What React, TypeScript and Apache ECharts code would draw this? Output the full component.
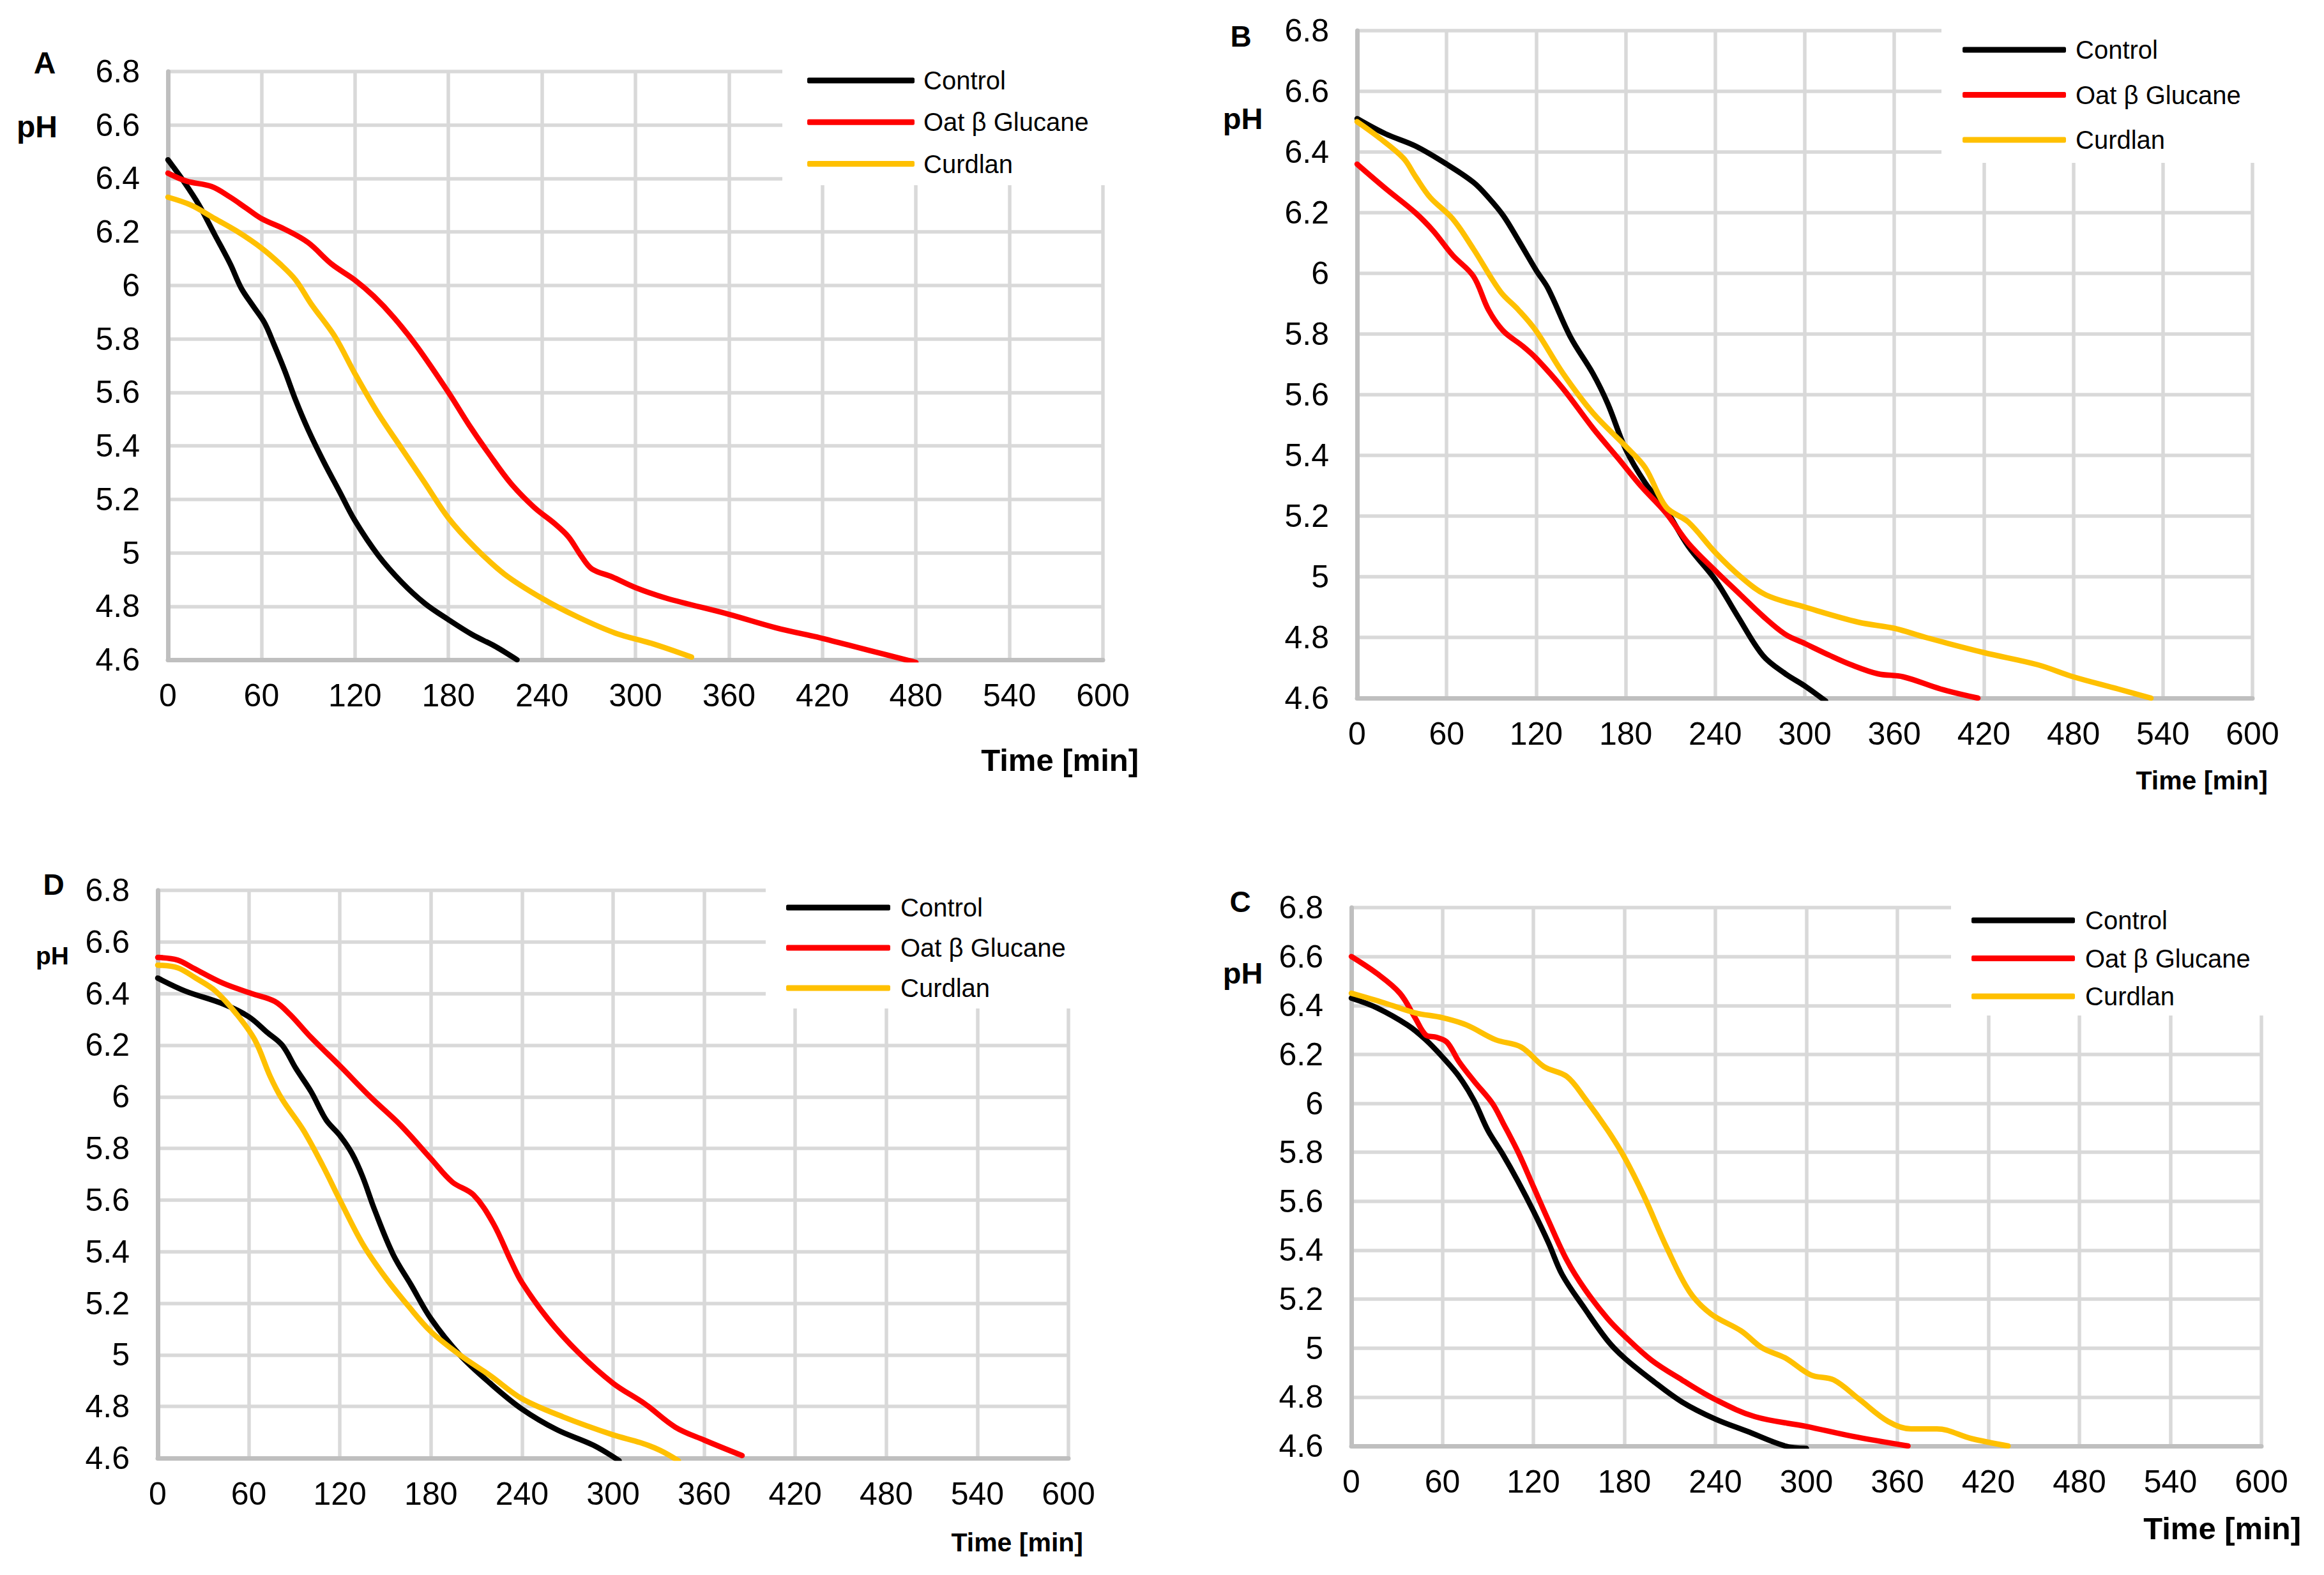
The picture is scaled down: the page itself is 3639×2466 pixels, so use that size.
import React, { useEffect, useRef } from "react";
import * as echarts from "echarts";

// ---------- DATA (time [min], pH) ----------
const SERIES_NAMES = ["Control", "Oat β Glucane", "Curdlan"];
const SERIES_COLORS = ["#000000", "#FF0000", "#FFC000"];
const X_TICKS = { min: 0, max: 600, interval: 60 };
const Y_TICKS = { min: 4.6, max: 6.8, interval: 0.2 };

const A_CONTROL: number[][] = [[0,6.47],[10,6.39],[20,6.30],[30,6.19],[40,6.08],[47,5.99],[55,5.92],[62,5.86],[68,5.78],[75,5.68],[82,5.57],[90,5.46],[100,5.34],[110,5.23],[120,5.12],[135,4.99],[150,4.89],[165,4.81],[180,4.75],[195,4.695],[210,4.65],[224,4.60]];
const A_OAT: number[][] = [[0,6.42],[12,6.39],[28,6.37],[40,6.33],[50,6.29],[60,6.25],[75,6.21],[90,6.16],[105,6.08],[120,6.02],[132,5.96],[145,5.88],[160,5.77],[180,5.60],[193,5.48],[206,5.37],[220,5.26],[235,5.17],[248,5.11],[257,5.06],[265,4.99],[272,4.94],[285,4.91],[300,4.87],[320,4.83],[360,4.77],[390,4.72],[420,4.68],[450,4.635],[480,4.59]];
const A_CURDLAN: number[][] = [[0,6.33],[15,6.30],[30,6.25],[45,6.20],[60,6.14],[72,6.08],[82,6.02],[92,5.93],[107,5.81],[120,5.67],[135,5.52],[150,5.39],[165,5.26],[180,5.13],[197,5.02],[216,4.92],[240,4.83],[263,4.76],[287,4.70],[311,4.66],[336,4.61]];

const B_CONTROL: number[][] = [[0,6.51],[19,6.46],[39,6.42],[60,6.36],[78,6.30],[88,6.25],[98,6.19],[108,6.11],[120,6.01],[128,5.95],[143,5.79],[158,5.67],[168,5.57],[180,5.42],[193,5.31],[207,5.22],[222,5.10],[240,4.99],[255,4.87],[272,4.74],[287,4.68],[300,4.64],[314,4.59]];
const B_OAT: number[][] = [[0,6.36],[19,6.28],[39,6.20],[51,6.14],[64,6.06],[78,5.99],[88,5.88],[98,5.81],[111,5.76],[120,5.72],[138,5.62],[158,5.49],[175,5.39],[190,5.30],[207,5.21],[222,5.11],[240,5.02],[257,4.94],[272,4.87],[287,4.81],[300,4.78],[317,4.74],[331,4.71],[349,4.68],[366,4.67],[391,4.63],[416,4.60]];
const B_CURDLAN: number[][] = [[0,6.50],[14,6.45],[31,6.38],[39,6.32],[49,6.25],[64,6.18],[78,6.08],[96,5.94],[108,5.88],[120,5.81],[138,5.67],[158,5.54],[180,5.43],[193,5.36],[207,5.23],[222,5.18],[240,5.08],[257,5.00],[274,4.94],[300,4.90],[336,4.85],[360,4.83],[381,4.80],[420,4.75],[456,4.71],[480,4.67],[510,4.63],[532,4.60]];

const D_CONTROL: number[][] = [[0,6.46],[18,6.41],[43,6.36],[60,6.31],[72,6.25],[82,6.20],[91,6.11],[101,6.02],[111,5.91],[120,5.85],[128,5.78],[135,5.69],[143,5.56],[155,5.39],[167,5.27],[180,5.14],[199,5.00],[219,4.89],[240,4.79],[263,4.71],[287,4.65],[304,4.59]];
const D_OAT: number[][] = [[0,6.54],[13,6.53],[23,6.50],[43,6.44],[62,6.40],[77,6.37],[87,6.32],[101,6.23],[120,6.12],[140,6.00],[160,5.89],[180,5.76],[194,5.67],[208,5.62],[221,5.51],[233,5.36],[240,5.28],[257,5.14],[277,5.01],[300,4.89],[321,4.81],[341,4.72],[360,4.67],[385,4.61]];
const D_CURDLAN: number[][] = [[0,6.51],[13,6.50],[25,6.46],[38,6.41],[52,6.32],[64,6.22],[74,6.08],[82,5.99],[96,5.87],[109,5.73],[120,5.60],[135,5.43],[150,5.30],[165,5.19],[180,5.09],[199,5.00],[219,4.92],[240,4.83],[267,4.76],[300,4.69],[318,4.66],[331,4.63],[343,4.59]];

const C_CONTROL: number[][] = [[0,6.43],[17,6.39],[37,6.32],[49,6.26],[60,6.19],[71,6.11],[81,6.01],[90,5.89],[100,5.79],[110,5.68],[120,5.56],[130,5.43],[139,5.30],[154,5.16],[169,5.03],[180,4.96],[198,4.87],[218,4.78],[240,4.71],[261,4.66],[286,4.60],[300,4.59]];
const C_OAT: number[][] = [[0,6.60],[17,6.53],[32,6.45],[42,6.35],[49,6.28],[56,6.27],[63,6.25],[71,6.17],[81,6.09],[93,6.00],[100,5.92],[110,5.80],[120,5.66],[130,5.52],[142,5.36],[154,5.24],[169,5.12],[180,5.05],[198,4.95],[218,4.87],[240,4.79],[266,4.72],[300,4.68],[330,4.64],[367,4.60]];
const C_CURDLAN: number[][] = [[0,6.45],[22,6.41],[42,6.37],[60,6.35],[76,6.32],[95,6.26],[112,6.23],[127,6.15],[142,6.11],[154,6.02],[169,5.89],[180,5.78],[193,5.62],[208,5.41],[223,5.23],[237,5.14],[257,5.07],[271,5.00],[286,4.96],[303,4.89],[318,4.87],[335,4.79],[354,4.70],[369,4.67],[386,4.67],[409,4.63],[433,4.60]];

const PANEL_DATA = [
  [A_CONTROL, A_OAT, A_CURDLAN],
  [B_CONTROL, B_OAT, B_CURDLAN],
  [D_CONTROL, D_OAT, D_CURDLAN],
  [C_CONTROL, C_OAT, C_CURDLAN],
];
const PANEL_LETTERS = ["A", "B", "D", "C"];
const Y_TITLE = "pH";
const X_TITLE = "Time [min]";

// ---------- LAYOUT ----------
const FONT = "'Liberation Sans', Arial, Helvetica, sans-serif";
const W = 3639;
const H = 2466;

const LAYOUT = [
  { // A
    grid: { left: 263, top: 112, width: 1464, height: 921 },
    legend: { left: 1264, top: 106, itemWidth: 168, gap: 25.3, textPad: 14 },
    cover: { x: 1225, y: 95, w: 560, h: 195 },
    letter: { x: 70, y: 98, size: 48 },
    ph: { x: 58, y: 198, size: 48 },
    time: { x: 1783, y: 1190, size: 49 },
  },
  { // B
    grid: { left: 2125, top: 48, width: 1402, height: 1045 },
    legend: { left: 3073, top: 58, itemWidth: 162, gap: 30.5, textPad: 15 },
    cover: { x: 3040, y: 30, w: 570, h: 225 },
    letter: { x: 1943, y: 57, size: 46 },
    ph: { x: 1946, y: 185, size: 47 },
    time: { x: 3551, y: 1222, size: 41 },
  },
  { // D
    grid: { left: 247, top: 1394, width: 1426, height: 889 },
    legend: { left: 1231, top: 1401, itemWidth: 163, gap: 23, textPad: 16 },
    cover: { x: 1199, y: 1380, w: 520, h: 199 },
    letter: { x: 84, y: 1385, size: 46 },
    ph: { x: 82, y: 1496, size: 39 },
    time: { x: 1696, y: 2415, size: 41 },
  },
  { // C
    grid: { left: 2116, top: 1421, width: 1425, height: 843 },
    legend: { left: 3087, top: 1421, itemWidth: 162, gap: 19.5, textPad: 16 },
    cover: { x: 3055, y: 1405, w: 550, h: 185 },
    letter: { x: 1942, y: 1412, size: 46 },
    ph: { x: 1946, y: 1523, size: 47 },
    time: { x: 3603, y: 2393, size: 49 },
  },
];

function buildOption() {
  const grid: any[] = [];
  const xAxis: any[] = [];
  const yAxis: any[] = [];
  const series: any[] = [];
  const legend: any[] = [];
  const graphic: any[] = [];

  LAYOUT.forEach((L, p) => {
    grid.push({ ...L.grid, containLabel: false, show: false });
    xAxis.push({
      type: "value",
      gridIndex: p,
      min: X_TICKS.min,
      max: X_TICKS.max,
      interval: X_TICKS.interval,
      axisLine: { show: true, onZero: false, lineStyle: { color: "#BFBFBF", width: 7 } },
      axisTick: { show: false },
      splitLine: { show: true, showMinLine: true, showMaxLine: true, lineStyle: { color: "#D9D9D9", width: 5.5 } },
      axisLabel: { color: "#000", fontSize: 50, fontFamily: FONT, margin: 31 },
    });
    yAxis.push({
      type: "value",
      gridIndex: p,
      min: Y_TICKS.min,
      max: Y_TICKS.max,
      interval: Y_TICKS.interval,
      axisLine: { show: true, onZero: false, lineStyle: { color: "#BFBFBF", width: 7 } },
      axisTick: { show: false },
      splitLine: { show: true, showMinLine: true, showMaxLine: true, lineStyle: { color: "#D9D9D9", width: 5.5 } },
      axisLabel: { color: "#000", fontSize: 50, fontFamily: FONT, margin: 44 },
    });
    PANEL_DATA[p].forEach((d, s) => {
      series.push({
        type: "line",
        name: SERIES_NAMES[s],
        xAxisIndex: p,
        yAxisIndex: p,
        data: d,
        smooth: 0.35,
        symbol: "none",
        showSymbol: false,
        color: SERIES_COLORS[s],
        itemStyle: { color: SERIES_COLORS[s] },
        lineStyle: { color: SERIES_COLORS[s], width: 8.5, cap: "round", join: "round" },
        z: 2,
      });
    });
    legend.push({
      show: true,
      orient: "vertical",
      left: L.legend.left,
      top: L.legend.top,
      padding: 0,
      itemWidth: L.legend.itemWidth,
      itemHeight: 9,
      itemGap: L.legend.gap,
      icon: "roundRect",
      selectedMode: false,
      data: SERIES_NAMES,
      textStyle: { color: "#000", fontSize: 40, fontFamily: FONT, lineHeight: 40, padding: [0, 0, 0, L.legend.textPad - 5] },
      z: 10,
    });
    graphic.push({
      type: "rect",
      shape: { x: L.cover.x, y: L.cover.y, width: L.cover.w, height: L.cover.h },
      style: { fill: "#FFFFFF" },
      z: 5,
      silent: true,
    });
    const txt = (text: string, x: number, y: number, size: number, align: string) => ({
      type: "text",
      x,
      y,
      z: 10,
      silent: true,
      style: {
        text,
        fill: "#000",
        fontSize: size,
        fontWeight: "bold",
        fontFamily: FONT,
        align,
        textAlign: align,
        verticalAlign: "middle",
        textVerticalAlign: "middle",
      },
    });
    graphic.push(txt(PANEL_LETTERS[p], L.letter.x, L.letter.y, L.letter.size, "center"));
    graphic.push(txt(Y_TITLE, L.ph.x, L.ph.y, L.ph.size, "center"));
    graphic.push(txt(X_TITLE, L.time.x, L.time.y, L.time.size, "right"));
  });

  return {
    animation: false,
    backgroundColor: "#FFFFFF",
    textStyle: { fontFamily: FONT },
    grid,
    xAxis,
    yAxis,
    series,
    legend,
    graphic,
  };
}

export default function App() {
  const ref = useRef<HTMLDivElement>(null);
  useEffect(() => {
    document.body.style.margin = "0";
    if (!ref.current) return;
    const chart = echarts.init(ref.current, undefined, { renderer: "svg", width: W, height: H });
    chart.setOption(buildOption() as any);
    return () => chart.dispose();
  }, []);
  return <div ref={ref} style={{ width: W, height: H, position: "absolute", left: 0, top: 0, background: "#fff" }} />;
}
